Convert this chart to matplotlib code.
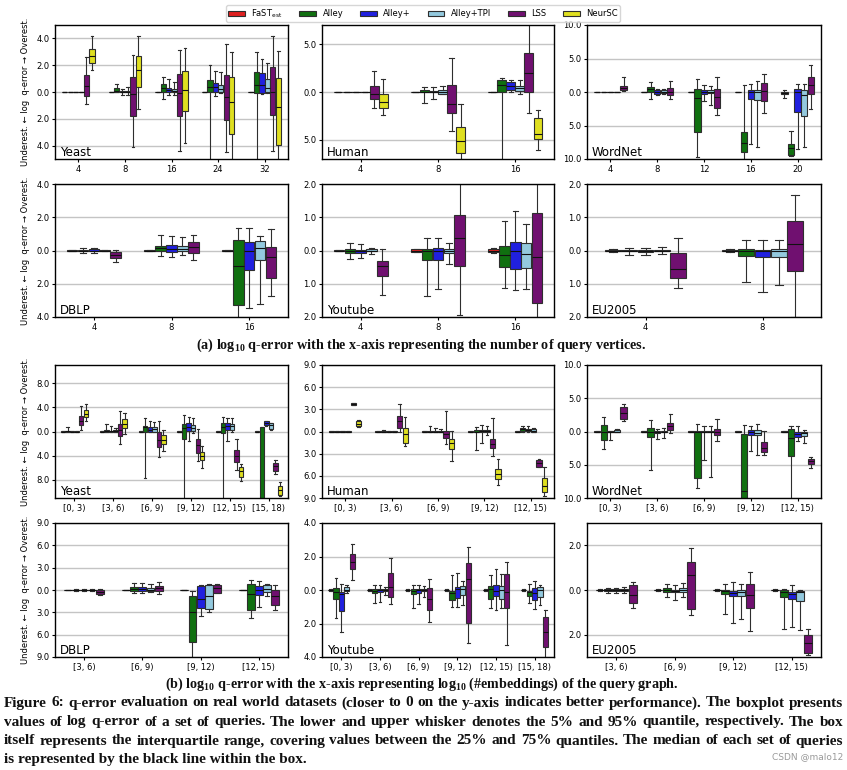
import matplotlib
matplotlib.use('Agg')
import matplotlib.pyplot as plt
from matplotlib.patches import Patch
from matplotlib.ticker import FuncFormatter

plt.rcParams['font.family'] = ['DejaVu Sans']
plt.rcParams['mathtext.fontset'] = 'custom'
plt.rcParams['mathtext.rm'] = 'DejaVu Sans'
plt.rcParams['mathtext.bf'] = 'Liberation Serif:bold'

# 방법 이름 / 색
methods = ['FaST', 'Alley', 'Alley+', 'Alley+TPI', 'LSS', 'NeurSC']
legend_labels = ['FaST$_{\\mathrm{est}}$', 'Alley', 'Alley+', 'Alley+TPI', 'LSS', 'NeurSC']
colors = ['#df2020', '#107010', '#2020df', '#93c9de', '#701070', '#dfdf20']

# (whislo, q1, med, q3, whishi) in signed log q-error
Z = (-0.03, -0.01, 0.0, 0.01, 0.03)

# ---- (a) number of query vertices ----
yeast_a_x = ['4', '8', '16', '24', '32']
yeast_a = {
    'FaST': [Z, Z, Z, Z, Z],
    'Alley': [Z, (-0.02, 0.0, 0.1, 0.28, 0.58), (-0.53, 0.0, 0.28, 0.58, 1.15), (-6.0, 0.0, 0.35, 0.9, 2.0), (-6.0, -0.1, 0.52, 1.52, 2.95)],
    'Alley+': [Z, (-0.22, -0.02, 0.02, 0.08, 0.25), (-0.22, 0.0, 0.15, 0.28, 1.0), (-0.3, 0.0, 0.35, 0.65, 1.6), (-0.18, -0.1, 0.5, 1.45, 2.45)],
    'Alley+TPI': [Z, (-0.22, -0.02, 0.02, 0.05, 0.35), (-0.22, -0.02, 0.1, 0.22, 0.78), (-0.1, 0.02, 0.2, 0.5, 1.5), (-0.1, 0.0, 0.28, 0.98, 2.2)],
    'LSS': [(-0.93, -0.28, 0.43, 1.28, 2.6), (-4.1, -1.78, -0.18, 1.1, 2.75), (-4.4, -1.8, -0.05, 1.35, 3.1), (-4.48, -2.1, -0.4, 1.28, 3.58), (-4.4, -1.68, 0.0, 1.88, 4.2)],
    'NeurSC': [(1.63, 2.2, 2.65, 3.2, 4.2), (-1.28, 0.4, 1.65, 2.65, 4.2), (-3.78, -1.4, 0.15, 1.6, 3.3), (-6.0, -3.1, -0.72, 1.15, 2.95), (-6.0, -3.95, -1.15, 1.03, 3.03)],
}

human_a_x = ['4', '8', '16']
human_a = {
    'FaST': [Z, Z, Z],
    'Alley': [Z, (-1.15, 0.0, 0.05, 0.2, 0.52), (-8.0, 0.0, 0.7, 1.22, 1.43)],
    'Alley+': [Z, (-0.7, 0.0, 0.02, 0.12, 0.52), (0.03, 0.24, 0.6, 1.0, 1.3)],
    'Alley+TPI': [Z, (-0.2, -0.17, 0.05, 0.24, 0.6), (-0.2, 0.07, 0.42, 0.63, 1.3)],
    'LSS': [(-1.64, -0.73, -0.2, 0.66, 2.2), (-4.1, -2.2, -1.25, 0.73, 3.55), (-2.2, 0.0, 2.02, 4.08, 8.0)],
    'NeurSC': [(-2.44, -1.67, -1.05, -0.24, 1.4), (-8.0, -6.38, -5.09, -3.62, -1.22), (-6.1, -4.9, -4.4, -2.68, -1.85)],
}

wordnet_a_x = ['4', '8', '12', '16', '20']
wordnet_a = {
    'FaST': [Z, Z, Z, Z, (-0.85, -0.3, -0.15, 0.0, 0.25)],
    'Alley': [Z, (-1.05, 0.05, 0.45, 0.7, 1.5), (-9.75, -6.0, -0.9, 0.45, 1.95), (-11.0, -8.95, -7.65, -6.0, 1.0), (-9.6, -9.35, -8.4, -7.7, -5.8)],
    'Alley+': [Z, (-0.4, -0.25, 0.0, 0.35, 0.5), (-1.3, -0.3, 0.05, 0.35, 1.0), (-7.75, -1.0, 0.0, 0.35, 1.2), (-8.5, -3.0, 0.0, 0.45, 1.25)],
    'Alley+TPI': [Z, (-0.3, -0.15, 0.0, 0.35, 0.45), (-2.0, -0.2, 0.05, 0.35, 0.95), (-8.15, -1.15, 0.0, 0.35, 1.6), (-8.15, -3.65, -0.5, 0.35, 1.25)],
    'LSS': [(0.1, 0.25, 0.6, 0.95, 2.2), (-1.05, -0.45, 0.05, 0.6, 1.6), (-3.5, -2.4, -0.75, 0.45, 2.25), (-3.15, -1.35, 0.1, 1.35, 2.7), (-2.55, -0.35, 1.0, 2.25, 4.0)],
}

dblp_a_x = ['4', '8', '16']
dblp_a = {
    'FaST': [Z, Z, Z],
    'Alley': [(-0.15, -0.05, 0.0, 0.05, 0.15), (-0.36, -0.04, 0.18, 0.3, 0.92), (-4.5, -3.28, -0.92, 0.66, 1.38)],
    'Alley+': [(-0.15, -0.05, 0.0, 0.08, 0.15), (-0.4, -0.12, 0.12, 0.34, 0.86), (-3.44, -1.2, 0.0, 0.54, 1.38)],
    'Alley+TPI': [(-0.05, -0.02, 0.0, 0.02, 0.05), (-0.3, -0.04, 0.1, 0.28, 0.84), (-3.22, -0.6, 0.16, 0.6, 0.88)],
    'LSS': [(-0.72, -0.48, -0.3, -0.1, 0.06), (-0.58, -0.14, 0.2, 0.52, 0.94), (-2.72, -1.68, -0.42, 0.22, 1.28)],
}

youtube_a_x = ['4', '8', '16']
youtube_a = {
    'FaST': [Z, (-0.06, -0.04, 0.0, 0.04, 0.06), (-0.09, -0.05, 0.0, 0.05, 0.09)],
    'Alley': [(-0.26, -0.08, 0.0, 0.04, 0.24), (-1.36, -0.3, 0.0, 0.06, 0.38), (-1.13, -0.5, -0.15, 0.14, 0.88)],
    'Alley+': [(-0.24, -0.08, 0.0, 0.03, 0.19), (-1.16, -0.29, 0.0, 0.07, 0.38), (-1.18, -0.56, -0.02, 0.25, 1.2)],
    'Alley+TPI': [(-0.11, -0.02, 0.0, 0.05, 0.09), (-0.41, -0.09, -0.03, 0.06, 0.24), (-1.16, -0.52, -0.12, 0.23, 0.81)],
    'LSS': [(-1.35, -0.77, -0.47, -0.32, 0.05), (-1.93, -0.46, 0.39, 1.07, 2.5), (-2.5, -1.57, -0.19, 1.12, 2.5)],
}

eu_a_x = ['4', '8']
eu_a = {
    'FaST': [(-0.04, -0.03, 0.0, 0.03, 0.04), (-0.06, -0.03, 0.0, 0.03, 0.06)],
    'Alley': [(-0.13, -0.01, 0.0, 0.01, 0.09), (-0.96, -0.16, -0.03, 0.06, 0.31)],
    'Alley+': [(-0.13, -0.05, 0.0, 0.03, 0.09), (-1.26, -0.21, -0.03, 0.01, 0.33)],
    'Alley+TPI': [(-0.12, -0.02, 0.0, 0.02, 0.11), (-1.04, -0.2, -0.02, 0.05, 0.33)],
    'LSS': [(-1.12, -0.84, -0.57, -0.08, 0.37), (-2.0, -0.63, 0.19, 0.9, 1.67)],
}

# ---- (b) log10(#embeddings) ----
yeast_b_x = ['[0, 3)', '[3, 6)', '[6, 9)', '[9, 12)', '[12, 15)', '[15, 18)']
yeast_b = {
    'FaST': [Z, Z, Z, Z, Z, Z],
    'Alley': [(-0.05, 0.0, 0.05, 0.1, 0.7), (-0.1, -0.1, 0.05, 0.33, 1.3), (-7.7, -0.1, 0.7, 0.93, 2.3), (-12.0, -1.26, 0.66, 1.26, 2.75), (-12.0, -0.27, 0.71, 1.43, 2.47), (-14.0, -12.0, -11.5, 0.7, 0.75)],
    'Alley+': [Z, (-0.05, 0.0, 0.05, 0.1, 0.9), (-0.1, 0.0, 0.27, 0.7, 1.7), (-1.65, 0.1, 0.82, 1.37, 2.36), (-1.54, 0.22, 0.93, 1.43, 2.3), (0.93, 1.0, 1.37, 1.75, 1.8)],
    'Alley+TPI': [Z, (0.0, 0.0, 0.1, 0.33, 0.65), (-0.15, 0.0, 0.45, 0.7, 1.65), (-0.33, 0.16, 0.66, 1.04, 2.2), (0.0, 0.33, 0.93, 1.26, 2.25), (0.27, 0.44, 1.0, 1.37, 1.48)],
    'LSS': [(0.27, 1.0, 1.75, 2.6, 4.3), (-2.0, -0.7, 0.27, 1.3, 3.35), (-4.28, -2.58, -1.37, -0.16, 1.75), (-4.84, -3.57, -2.2, -1.2, 0.38), (-6.37, -5.05, -4.0, -3.0, -1.26), (-7.03, -6.48, -5.77, -5.16, -4.73)],
    'NeurSC': [(1.8, 2.36, 2.97, 3.57, 4.5), (-0.45, 0.55, 1.27, 2.1, 3.13), (-3.3, -2.03, -1.48, -0.5, 0.33), (-6.1, -4.67, -4.0, -3.4, -2.36), (-8.24, -7.47, -6.6, -5.93, -5.33), (-10.7, -10.44, -9.73, -9.0, -8.35)],
}

human_b_x = ['[0, 3)', '[3, 6)', '[6, 9)', '[9, 12)', '[12, 15)']
human_b = {
    'FaST': [Z, Z, Z, Z, Z],
    'Alley': [Z, (-0.05, 0.0, 0.0, 0.05, 0.2), (-0.05, 0.0, 0.0, 0.05, 0.77), (-2.53, -0.05, 0.0, 0.2, 0.63), (0.0, 0.1, 0.3, 0.5, 0.68)],
    'Alley+': [Z, Z, (-0.05, 0.0, 0.0, 0.05, 0.45), (-1.54, -0.05, 0.1, 0.25, 0.86), (0.0, 0.05, 0.2, 0.4, 0.68)],
    'Alley+TPI': [Z, Z, (-0.05, 0.0, 0.0, 0.05, 0.36), (-0.45, -0.1, 0.1, 0.25, 0.68), (-0.1, -0.05, 0.1, 0.3, 0.5)],
    'LSS': [(3.55, 3.62, 3.73, 3.85, 3.9), (0.0, 0.54, 1.36, 2.13, 3.67), (-1.67, -0.86, -0.32, 0.05, 2.76), (-3.3, -2.22, -1.63, -1.04, 1.8), (-4.84, -4.75, -4.25, -3.8, -3.7)],
    'NeurSC': [(0.63, 0.72, 1.08, 1.4, 1.54), (-2.0, -1.5, -0.36, 0.45, 1.9), (-3.98, -2.4, -1.58, -0.95, 0.09), (-7.2, -6.47, -5.75, -5.02, -3.76), (-8.7, -8.14, -7.38, -6.33, -4.75)],
}

wordnet_b_x = ['[0, 3)', '[3, 6)', '[6, 9)', '[9, 12)', '[12, 15)']
wordnet_b = {
    'FaST': [Z, Z, Z, Z, Z],
    'Alley': [(-2.7, -1.25, 0.0, 0.95, 2.25), (-5.8, -0.9, -0.1, 0.6, 1.7), (-8.5, -7.05, -0.1, 0.1, 1.15), (-11.0, -10.5, -9.0, -0.4, 1.0), (-11.0, -3.75, -1.0, 0.45, 0.8)],
    'Alley+': [(-1.25, -0.05, 0.0, 0.05, 0.1), (-1.1, -0.2, 0.0, 0.15, 0.4), (-4.3, -0.05, 0.0, 0.1, 0.85), (-3.0, -0.5, -0.1, 0.25, 0.9), (-1.5, -0.8, -0.4, -0.15, 0.8)],
    'Alley+TPI': [(-0.15, -0.1, 0.0, 0.25, 0.4), (-1.0, -0.15, 0.0, 0.15, 0.5), (-6.9, -0.05, 0.0, 0.1, 0.8), (-3.6, -0.5, -0.25, 0.25, 1.2), (-1.75, -0.75, -0.25, 0.0, 0.25)],
    'LSS': [(1.6, 1.9, 2.75, 3.65, 4.15), (-0.25, 0.3, 0.9, 1.35, 2.7), (-1.5, -0.55, -0.1, 0.45, 1.95), (-3.6, -3.15, -2.55, -1.65, 0.15), (-5.45, -4.85, -4.5, -4.15, -3.8)],
}

dblp_b_x = ['[3, 6)', '[6, 9)', '[9, 12)', '[12, 15)']
dblp_b = {
    'FaST': [Z, Z, Z, Z],
    'Alley': [(-0.1, -0.05, 0.0, 0.05, 0.1), (-0.4, -0.14, 0.14, 0.4, 0.95), (-10.0, -6.98, -3.0, -0.77, -0.09), (-3.74, -2.75, -0.54, 0.81, 1.4)],
    'Alley+': [(-0.1, -0.05, 0.0, 0.05, 0.1), (-0.45, -0.14, 0.1, 0.4, 0.9), (-3.47, -2.4, -1.26, 0.54, 0.68), (-2.25, -0.63, 0.05, 0.54, 1.26)],
    'Alley+TPI': [(-0.1, -0.05, 0.0, 0.05, 0.1), (-0.3, -0.18, 0.05, 0.32, 0.86), (-2.93, -2.6, -0.86, 0.68, 0.77), (-0.86, -0.23, 0.18, 0.68, 0.86)],
    'LSS': [(-0.7, -0.54, -0.3, -0.05, 0.1), (-0.58, -0.18, 0.23, 0.54, 1.04), (-0.45, -0.45, 0.23, 0.68, 0.77), (-2.75, -2.03, -0.77, 0.0, 0.68)],
}

youtube_b_x = ['[0, 3)', '[3, 6)', '[6, 9)', '[9, 12)', '[12, 15)', '[15, 18)']
youtube_b = {
    'FaST': [Z, Z, Z, Z, Z, Z],
    'Alley': [(-1.66, -0.54, -0.14, 0.1, 0.74), (-0.8, -0.2, -0.04, 0.04, 0.3), (-1.1, -0.22, -0.06, 0.04, 0.3), (-1.0, -0.62, -0.18, -0.08, 0.9), (-1.1, -0.52, 0.04, 0.26, 0.9), (-0.8, -0.38, -0.14, -0.06, 0.38)],
    'Alley+': [(-2.52, -1.24, -0.26, -0.14, 0.36), (-0.7, -0.14, -0.02, 0.06, 0.3), (-0.86, -0.18, -0.02, 0.04, 0.3), (-1.0, -0.5, 0.04, 0.2, 1.04), (-1.2, -0.36, -0.04, 0.3, 1.24), (-1.14, -0.6, -0.2, 0.14, 0.56)],
    'Alley+TPI': [(-0.16, -0.06, 0.0, 0.2, 0.3), (-0.3, -0.06, 0.0, 0.04, 0.2), (-0.4, -0.06, 0.0, 0.04, 0.22), (-0.9, -0.3, 0.06, 0.24, 0.54), (-1.1, -0.56, 0.0, 0.24, 0.94), (-0.9, -0.44, 0.0, 0.2, 0.3)],
    'LSS': [(0.58, 1.26, 1.7, 2.14, 2.74), (-0.84, -0.44, 0.2, 1.02, 1.9), (-1.94, -1.2, -0.56, 0.12, 0.64), (-3.16, -1.96, 0.66, 1.62, 2.56), (-3.26, -1.06, -0.14, 0.94, 1.66), (-4.5, -3.4, -2.5, -1.6, -1.22)],
}

eu_b_x = ['[3, 6)', '[6, 9)', '[9, 12)', '[12, 15)']
eu_b = {
    'FaST': [Z, Z, Z, Z],
    'Alley': [(-0.12, -0.06, 0.0, 0.06, 0.09), (-0.3, -0.1, 0.0, 0.08, 0.26), (-1.08, -0.18, -0.05, 0.0, 0.29), (-1.73, -0.33, -0.1, -0.02, 0.06)],
    'Alley+': [(-0.12, -0.05, 0.0, 0.05, 0.1), (-0.44, -0.11, -0.05, 0.0, 0.23), (-1.46, -0.26, -0.13, -0.05, 0.35), (-1.65, -0.41, -0.2, -0.08, 0.21)],
    'Alley+TPI': [(-0.15, -0.05, 0.0, 0.06, 0.12), (-0.3, -0.1, 0.0, 0.09, 0.33), (-1.28, -0.27, -0.1, -0.02, 0.29), (-1.77, -0.51, -0.1, -0.05, 0.02)],
    'LSS': [(-0.8, -0.59, -0.23, 0.23, 0.38), (-1.1, -0.86, 0.66, 1.25, 1.88), (-1.83, -0.81, -0.23, 0.26, 0.81), (-2.93, -2.83, -2.36, -2.0, -1.74)],
}

LC = '#2e2e2e'
W, H = 847, 770


def draw_panel(ax, data, cats, lim, ticks, name):
    present = [m for m in methods if m in data]
    n = len(present)
    slot = 0.7 / n
    for j, m in enumerate(present):
        c = colors[methods.index(m)]
        pos = [i + (j - (n - 1) / 2) * slot for i in range(len(cats))]
        stats = [dict(whislo=v[0], q1=v[1], med=v[2], q3=v[3], whishi=v[4]) for v in data[m]]
        ax.bxp(stats, positions=pos, widths=slot * 0.97, capwidths=slot * 0.5,
               patch_artist=True, showfliers=False, manage_ticks=False,
               boxprops=dict(facecolor=c, edgecolor=LC, linewidth=0.8),
               whiskerprops=dict(color=LC, linewidth=0.8),
               capprops=dict(color=LC, linewidth=0.8),
               medianprops=dict(color='#111111', linewidth=0.8))
    ax.set_xlim(-0.5, len(cats) - 0.5)
    ax.set_xticks(range(len(cats)), cats)
    ax.set_ylim(-lim, lim)
    ax.set_yticks(ticks)
    ax.yaxis.set_major_formatter(FuncFormatter(lambda v, p: f'{abs(v):.1f}'))
    ax.tick_params(labelsize=6, length=2.5, width=0.8, pad=1.5)
    ax.yaxis.grid(True, color='#c4c4c4', linewidth=1.0)
    ax.set_axisbelow(True)
    for s in ax.spines.values():
        s.set_linewidth(1.0)
    ax.text(0.02, 0.0, name, transform=ax.transAxes, fontsize=8.5, va='bottom', ha='left')


fig = plt.figure(figsize=(W / 100, H / 100), dpi=100)

cols = [(55, 288), (322, 554), (587, 821)]
rows = [(25, 159), (184, 317), (365, 498), (523, 657)]

panels = [
    (0, 0, yeast_a, yeast_a_x, 5, [-4, -2, 0, 2, 4], 'Yeast'),
    (0, 1, human_a, human_a_x, 7, [-5, 0, 5], 'Human'),
    (0, 2, wordnet_a, wordnet_a_x, 10, [-10, -5, 0, 5, 10], 'WordNet'),
    (1, 0, dblp_a, dblp_a_x, 4, [-4, -2, 0, 2, 4], 'DBLP'),
    (1, 1, youtube_a, youtube_a_x, 2, [-2, -1, 0, 1, 2], 'Youtube'),
    (1, 2, eu_a, eu_a_x, 2, [-2, -1, 0, 1, 2], 'EU2005'),
    (2, 0, yeast_b, yeast_b_x, 11, [-8, -4, 0, 4, 8], 'Yeast'),
    (2, 1, human_b, human_b_x, 9, [-9, -6, -3, 0, 3, 6, 9], 'Human'),
    (2, 2, wordnet_b, wordnet_b_x, 10, [-10, -5, 0, 5, 10], 'WordNet'),
    (3, 0, dblp_b, dblp_b_x, 9, [-9, -6, -3, 0, 3, 6, 9], 'DBLP'),
    (3, 1, youtube_b, youtube_b_x, 4, [-4, -2, 0, 2, 4], 'Youtube'),
    (3, 2, eu_b, eu_b_x, 3, [-2, 0, 2], 'EU2005'),
]

for r, c, data, cats, lim, ticks, name in panels:
    x0, x1 = cols[c]
    y0, y1 = rows[r]
    ax = fig.add_axes([x0 / W, 1 - y1 / H, (x1 - x0) / W, (y1 - y0) / H])
    draw_panel(ax, data, cats, lim, ticks, name)
    if c == 0:
        ax.set_ylabel('Underest. \u2190 log  q-error \u2192 Overest.', fontsize=6)
        ax.yaxis.set_label_coords(-25 / (x1 - x0), 0.5)

# 범례
handles = [Patch(facecolor=colors[i], edgecolor=LC, linewidth=0.8) for i in range(len(methods))]
fig.legend(handles, legend_labels, loc='upper center', bbox_to_anchor=(423 / W, 1 - 1 / H),
           ncol=6, fontsize=6, frameon=True, handlelength=2.0, handleheight=0.6,
           columnspacing=2.0, borderpad=0.25, handletextpad=0.8)

# 캡션
cap_kw = dict(family='Liberation Serif', weight='bold', color='#111111')
fig.text(421 / W, 1 - 345 / H, '(a) $\\mathbf{log_{10}}$ q-error with the x-axis representing the number of query vertices.',
         ha='center', va='center', fontsize=10.2, **cap_kw)
fig.text(422 / W, 1 - 684 / H, '(b) $\\mathbf{log_{10}}$ q-error with the x-axis representing $\\mathbf{log_{10}}$ (#embeddings) of the query graph.',
         ha='center', va='center', fontsize=10.2, **cap_kw)

lines = [
    'Figure 6: q-error evaluation on real world datasets (closer to 0 on the y-axis indicates better performance). The boxplot presents',
    'values of log q-error of a set of queries. The lower and upper whisker denotes the 5% and 95% quantile, respectively. The box',
    'itself represents the interquartile range, covering values between the 25% and 75% quantiles. The median of each set of queries',
    'is represented by the black line within the box.',
]

# 양쪽 정렬: 단어 폭을 재고 간격을 나눈다
renderer = fig.canvas.get_renderer()
left_px, right_px = 4, 843
cap_size = 11.0
for k, t in enumerate(lines):
    y = 1 - (703 + k * 19) / H
    if k == len(lines) - 1:
        fig.text(left_px / W, y, t, ha='left', va='center', fontsize=cap_size, **cap_kw)
        continue
    words = t.split(' ')
    objs = [fig.text(0, y, w, ha='left', va='center', fontsize=cap_size, **cap_kw) for w in words]
    widths = [o.get_window_extent(renderer).width for o in objs]
    gap = (right_px - left_px - sum(widths)) / (len(words) - 1)
    x = left_px
    for o, w in zip(objs, widths):
        o.set_x(x / W)
        x += w + gap

fig.text(843 / W, 1 - 757 / H, 'CSDN @malo12', ha='right', va='center', fontsize=6.5, color='#9a9a9a')

fig.savefig('out.png', dpi=100)
